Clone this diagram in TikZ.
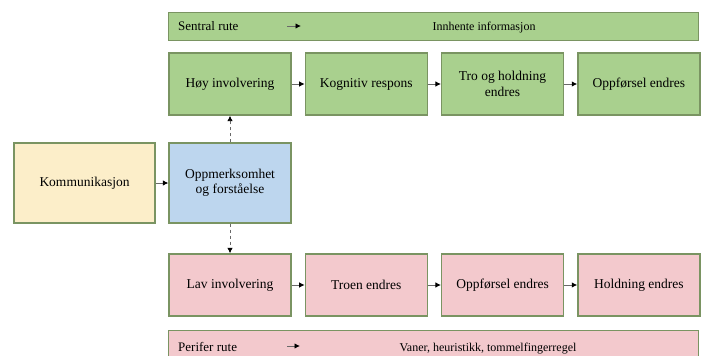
\documentclass[tikz,border=0pt]{standalone}
\usepackage{fontspec}
\setmainfont{Liberation Serif}
\usetikzlibrary{positioning,arrows.meta}
\definecolor{grnfill}{RGB}{169,208,142}
\definecolor{kant}{RGB}{122,148,98}
\definecolor{gulfill}{RGB}{252,238,201}
\definecolor{blafill}{RGB}{189,214,238}
\definecolor{rosfill}{RGB}{243,201,205}
\definecolor{strek}{RGB}{105,105,105}

\begin{document}
\begin{tikzpicture}[x=1pt,y=-1pt]
                        \tikzstyle{boks}=[draw=kant, line width=1.3pt, minimum width=122pt, minimum height=62pt, align=center, inner sep=2pt, font=\fontsize{13.5}{15.5}\selectfont]
                        \tikzstyle{bjelke}=[draw=kant, line width=1.3pt, minimum width=530pt, anchor=north west]
                        \tikzstyle{tekst}=[font=\fontsize{13}{15}\selectfont, inner sep=0pt]
                        \tikzstyle{innhold}=[font=\fontsize{12}{14}\selectfont, inner sep=0pt, anchor=base]
                        \tikzstyle{pil}=[draw=strek, line width=0.9pt, -{Latex[black,length=5.5pt,width=5.5pt]}]
                        \path[use as bounding box, clip] (0,0) rectangle (704,356);
                        % sentral rute
                        \node[bjelke, fill=grnfill, minimum height=28pt] (sentral) at (168,12) {};
                        \node[tekst, anchor=base west] (sentralnavn) at (178,30.5) {Sentral rute};
                        \node[innhold] (innhente) at (484,30.5) {Innhente informasjon};
                        \coordinate (sa) at (287,26);
                        \coordinate (sb) at (301,26);
                        \draw[pil] (sa) -- (sb);
                        \node[boks, fill=grnfill] (hoy) at (230,84) {Høy involvering};
                        \node[boks, fill=grnfill, right=13pt of hoy] (kognitiv) {Kognitiv respons};
                        \node[boks, fill=grnfill, right=13pt of kognitiv] (tro) {Tro og holdning\\endres};
                        \node[boks, fill=grnfill, right=13pt of tro] (oppforsel) {Oppførsel endres};
                        % midten
                        \node[boks, fill=blafill, minimum height=80pt] (oppm) at (230,183) {Oppmerksomhet\\og forståelse};
                        \node[boks, fill=gulfill, minimum height=80pt, minimum width=141pt] (komm) at (84.5,183) {Kommunikasjon};
                        % perifer rute
                        \node[boks, fill=rosfill] (lav) at (230,285) {Lav involvering};
                        \node[boks, fill=rosfill, right=13pt of lav] (troen) {Troen endres};
                        \node[boks, fill=rosfill, right=13pt of troen] (oppf) {Oppførsel endres};
                        \node[boks, fill=rosfill, right=13pt of oppf] (holdning) {Holdning endres};
                        \node[bjelke, fill=rosfill, minimum height=34pt] (perifer) at (168,330) {};
                        \node[tekst, anchor=base west] (perifernavn) at (178,351) {Perifer rute};
                        \node[innhold] (vaner) at (488,351) {Vaner, heuristikk, tommelfingerregel};
                        \coordinate (pa) at (287,346);
                        \coordinate (pb) at (300,346);
                        \draw[pil] (pa) -- (pb);
                        % piler
                        \draw[pil] (komm) -- (oppm);
                        \draw[pil, dashed] (oppm) -- (hoy);
                        \draw[pil, dashed] (oppm) -- (lav);
                        \draw[pil] (hoy) -- (kognitiv);
                        \draw[pil] (kognitiv) -- (tro);
                        \draw[pil] (tro) -- (oppforsel);
                        \draw[pil] (lav) -- (troen);
                        \draw[pil] (troen) -- (oppf);
                        \draw[pil] (oppf) -- (holdning);
                    \end{tikzpicture}
\end{document}
